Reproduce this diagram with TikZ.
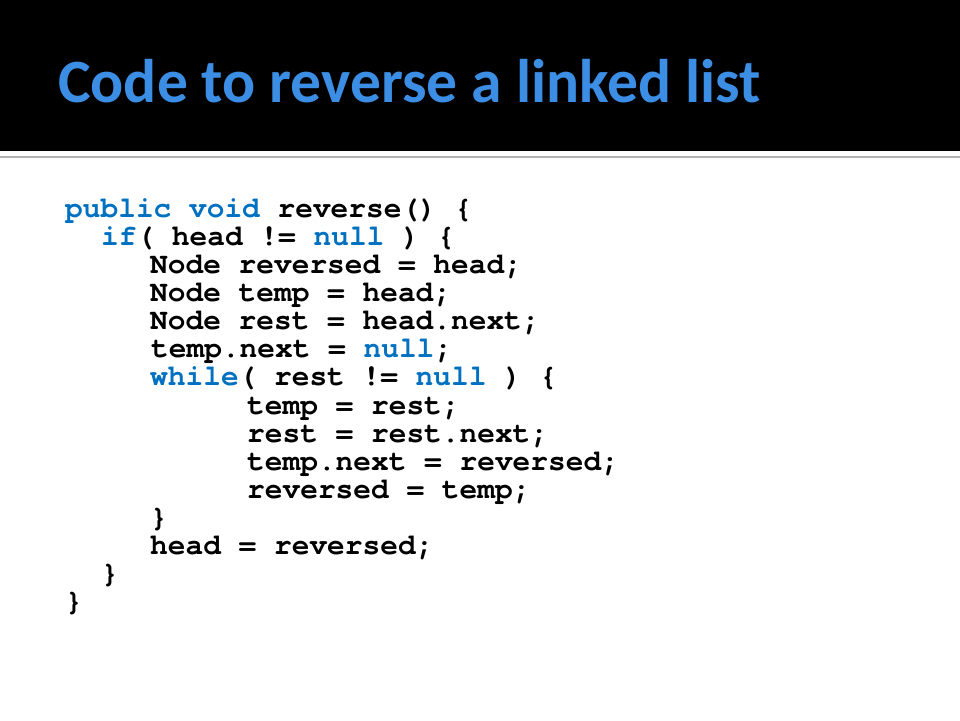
\documentclass[tikz,border=0pt]{standalone}
\usepackage{fontspec}
\setmainfont{Carlito}
\newfontfamily\codefont{texgyrecursor}[Extension=.otf,UprightFont=*-regular,BoldFont=*-bold]
\usepackage{tikz}
\definecolor{titleblue}{RGB}{59,142,228}
\definecolor{kwblue}{RGB}{0,112,192}
\newcommand{\kw}[1]{\textcolor{kwblue}{#1}}

\begin{document}
\begin{tikzpicture}[x=1pt,y=-1pt,
    codeline/.style={anchor=base west,inner sep=0pt,font=\codefont\bfseries\fontsize{29.5}{30}\selectfont}]
      \useasboundingbox (0,0) rectangle (960,720);
      \fill[black] (0,0) rectangle (960,150.5);
      \draw[gray!60,line width=2pt] (0,156.5) -- (960,156.5);

      \node[anchor=base west,inner sep=0pt,text=titleblue,font=\bfseries\fontsize{61.6}{62}\selectfont] (title) at (58,102) {Code to reverse a linked list};

      \node[codeline] (l1) at (65,217.5) {\kw{public} \kw{void} reverse() \{};
      \node[codeline] (l2) at (101,245.6) {\kw{if}( head != \kw{null} ) \{};
      \node[codeline] (l3) at (150,273.6) {Node reversed = head;};
      \node[codeline] (l4) at (150,301.7) {Node temp = head;};
      \node[codeline] (l5) at (150,329.8) {Node rest = head.next;};
      \node[codeline] (l6) at (151,357.8) {temp.next = \kw{null};};
      \node[codeline] (l7) at (150,385.9) {\kw{while}( rest != \kw{null} ) \{};
      \node[codeline] (l8) at (247,414.0) {temp = rest;};
      \node[codeline] (l9) at (247,442.1) {rest = rest.next;};
      \node[codeline] (l10) at (247,470.1) {temp.next = reversed;};
      \node[codeline] (l11) at (247,498.2) {reversed = temp;};
      \node[codeline] (l12) at (150,526.3) {\}};
      \node[codeline] (l13) at (150,554.3) {head = reversed;};
      \node[codeline] (l14) at (101,582.4) {\}};
      \node[codeline] (l15) at (65,610.5) {\}};
    \end{tikzpicture}
\end{document}
